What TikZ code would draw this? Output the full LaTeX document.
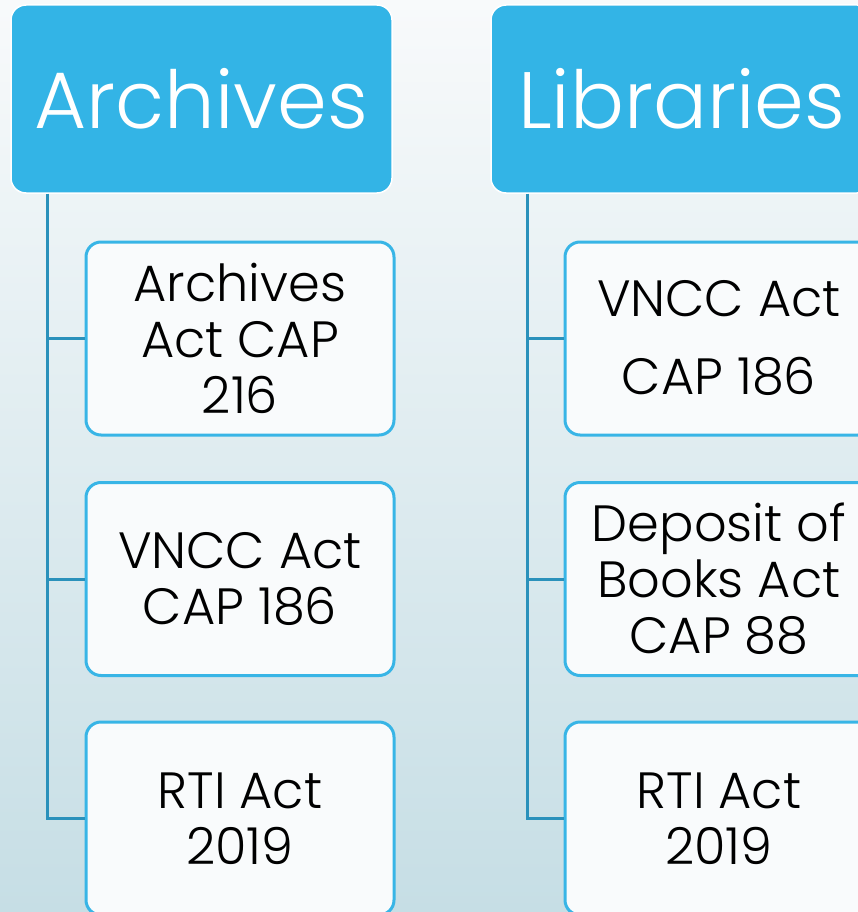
\documentclass[tikz,border=0pt]{standalone}
\usepackage{fontspec}
\setmainfont{Poppins Light}
\usetikzlibrary{positioning}
\definecolor{headblue}{HTML}{33B4E6}
\definecolor{edgeblue}{HTML}{38B5E6}
\definecolor{linkblue}{HTML}{2A91BB}
\definecolor{boxfill}{HTML}{F9FBFC}
\definecolor{bgtop}{HTML}{F8FAFB}
\definecolor{bgbot}{HTML}{C6DEE5}
\tikzset{
	head/.style={draw=white, line width=1.5pt, fill=headblue, rounded corners=15pt,
		minimum width=381pt, minimum height=188pt, text=white, inner sep=0pt,
		font=\fontsize{80}{90}\selectfont},
	item/.style={draw=edgeblue, line width=3pt, fill=boxfill, rounded corners=15pt,
		minimum width=308pt, minimum height=193pt, align=center, inner sep=0pt,
		font=\fontsize{51}{56}\selectfont},
	link/.style={draw=linkblue, line width=3pt}
}
\begin{document}
\begin{tikzpicture}[x=1pt, y=-1pt]
			%%%%% BACKGROUND %%%%%
			\useasboundingbox (0,0) rectangle (858,912);
			\clip (0,0) rectangle (858,912);
			\shade[top color=bgtop, bottom color=bgbot] (0,0) rectangle (858,912);
			
			%%%%% ARCHIVES %%%%%
			\node[head] (archhead) at (201.5, 99) {Archives};
			\node[item] (arch1) at (240, 338.5) {Archives\\Act CAP\\216};
			\node[item] (arch2) at (240, 579) {VNCC Act\\CAP 186};
			\node[item] (arch3) at (240, 818.5) {RTI Act\\2019};
			
			\draw[link] ([xshift=37pt]archhead.south west) |- (arch3.west);
			\draw[link] ([xshift=37pt]archhead.south west) |- (arch1.west);
			\draw[link] ([xshift=37pt]archhead.south west) |- (arch2.west);
			
			%%%%% LIBRARIES %%%%%
			\node[head] (libhead) at (681.5, 99) {Libraries};
			\node[item] (lib1) at (719, 338.5) {VNCC Act\\[22pt]CAP 186};
			\node[item] (lib2) at (719, 579) {Deposit of\\Books Act\\CAP 88};
			\node[item] (lib3) at (719, 818.5) {RTI Act\\2019};
			
			\draw[link] ([xshift=37pt]libhead.south west) |- (lib3.west);
			\draw[link] ([xshift=37pt]libhead.south west) |- (lib1.west);
			\draw[link] ([xshift=37pt]libhead.south west) |- (lib2.west);
			
			%%%%% END %%%%%
\end{tikzpicture}
\end{document}
